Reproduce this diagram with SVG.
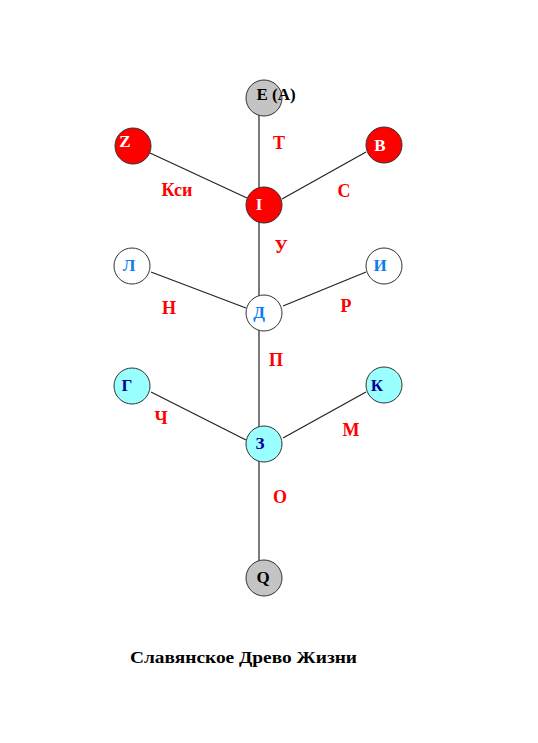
<svg xmlns="http://www.w3.org/2000/svg" width="538" height="743" viewBox="0 0 538 743">
<style>
.c{stroke:#333;stroke-width:1}
.gray{fill:#c4c4c4}
.red{fill:#ff0000}
.white{fill:#ffffff}
.cyan{fill:#99ffff}
.t{font-family:"Liberation Serif","Times New Roman",serif;font-weight:bold;text-anchor:middle}
.n{font-size:17px}
.e{font-size:18px;fill:#ff0000}
.lines line{stroke:#222;stroke-width:1.2}
</style>
<rect width="538" height="743" fill="#fff"/>
<g id="connectors" class="lines">
<line x1="259" y1="114" x2="259" y2="562"/>
<line x1="150" y1="153" x2="247" y2="198"/>
<line x1="366" y1="152" x2="282" y2="199"/>
<line x1="151" y1="272" x2="246" y2="308"/>
<line x1="366" y1="272" x2="283" y2="306"/>
<line x1="151" y1="392" x2="246" y2="440"/>
<line x1="366" y1="392" x2="283" y2="438"/>
</g>
<g id="node-E"><circle class="c gray" cx="264" cy="98" r="18"/><text class="t n" x="276" y="100">E (A)</text></g>
<g id="node-Z"><circle class="c red" cx="133" cy="146" r="18"/><text class="t n" x="125" y="147" fill="#fff">Z</text></g>
<g id="node-B"><circle class="c red" cx="384" cy="145" r="18"/><text class="t n" x="380" y="151" fill="#fff">В</text></g>
<g id="node-I"><circle class="c red" cx="264" cy="205" r="18"/><text class="t n" x="259" y="210" fill="#fff">I</text></g>
<g id="node-L"><circle class="c white" cx="132" cy="266" r="18"/><text class="t n" x="129" y="271" fill="#0a7df0">Л</text></g>
<g id="node-I2"><circle class="c white" cx="384" cy="266" r="18"/><text class="t n" x="380" y="271" fill="#0a7df0">И</text></g>
<g id="node-D"><circle class="c white" cx="264" cy="313" r="18"/><text class="t n" x="259" y="318" fill="#0a7df0">Д</text></g>
<g id="node-G"><circle class="c cyan" cx="132" cy="386" r="18"/><text class="t n" x="127" y="391" fill="#000099">Г</text></g>
<g id="node-K"><circle class="c cyan" cx="384" cy="385" r="18"/><text class="t n" x="377" y="391" fill="#000099">К</text></g>
<g id="node-Z3"><circle class="c cyan" cx="264" cy="444" r="18"/><text class="t n" x="260" y="449" fill="#000099">З</text></g>
<g id="node-Q"><circle class="c gray" cx="264" cy="578" r="18"/><text class="t n" x="263" y="583" fill="#000">Q</text></g>
<g id="edge-labels">
<text class="t e" x="279" y="149">Т</text>
<text class="t e" x="177" y="196">Кси</text>
<text class="t e" x="344" y="197">С</text>
<text class="t e" x="281" y="253">У</text>
<text class="t e" x="169" y="314">Н</text>
<text class="t e" x="346" y="312">Р</text>
<text class="t e" x="276" y="366">П</text>
<text class="t e" x="161" y="424">Ч</text>
<text class="t e" x="351" y="436">М</text>
<text class="t e" x="280" y="503">О</text>
</g>
<text class="t" x="243.5" y="663" font-size="17" textLength="227" lengthAdjust="spacingAndGlyphs">Славянское Древо Жизни</text>
</svg>
